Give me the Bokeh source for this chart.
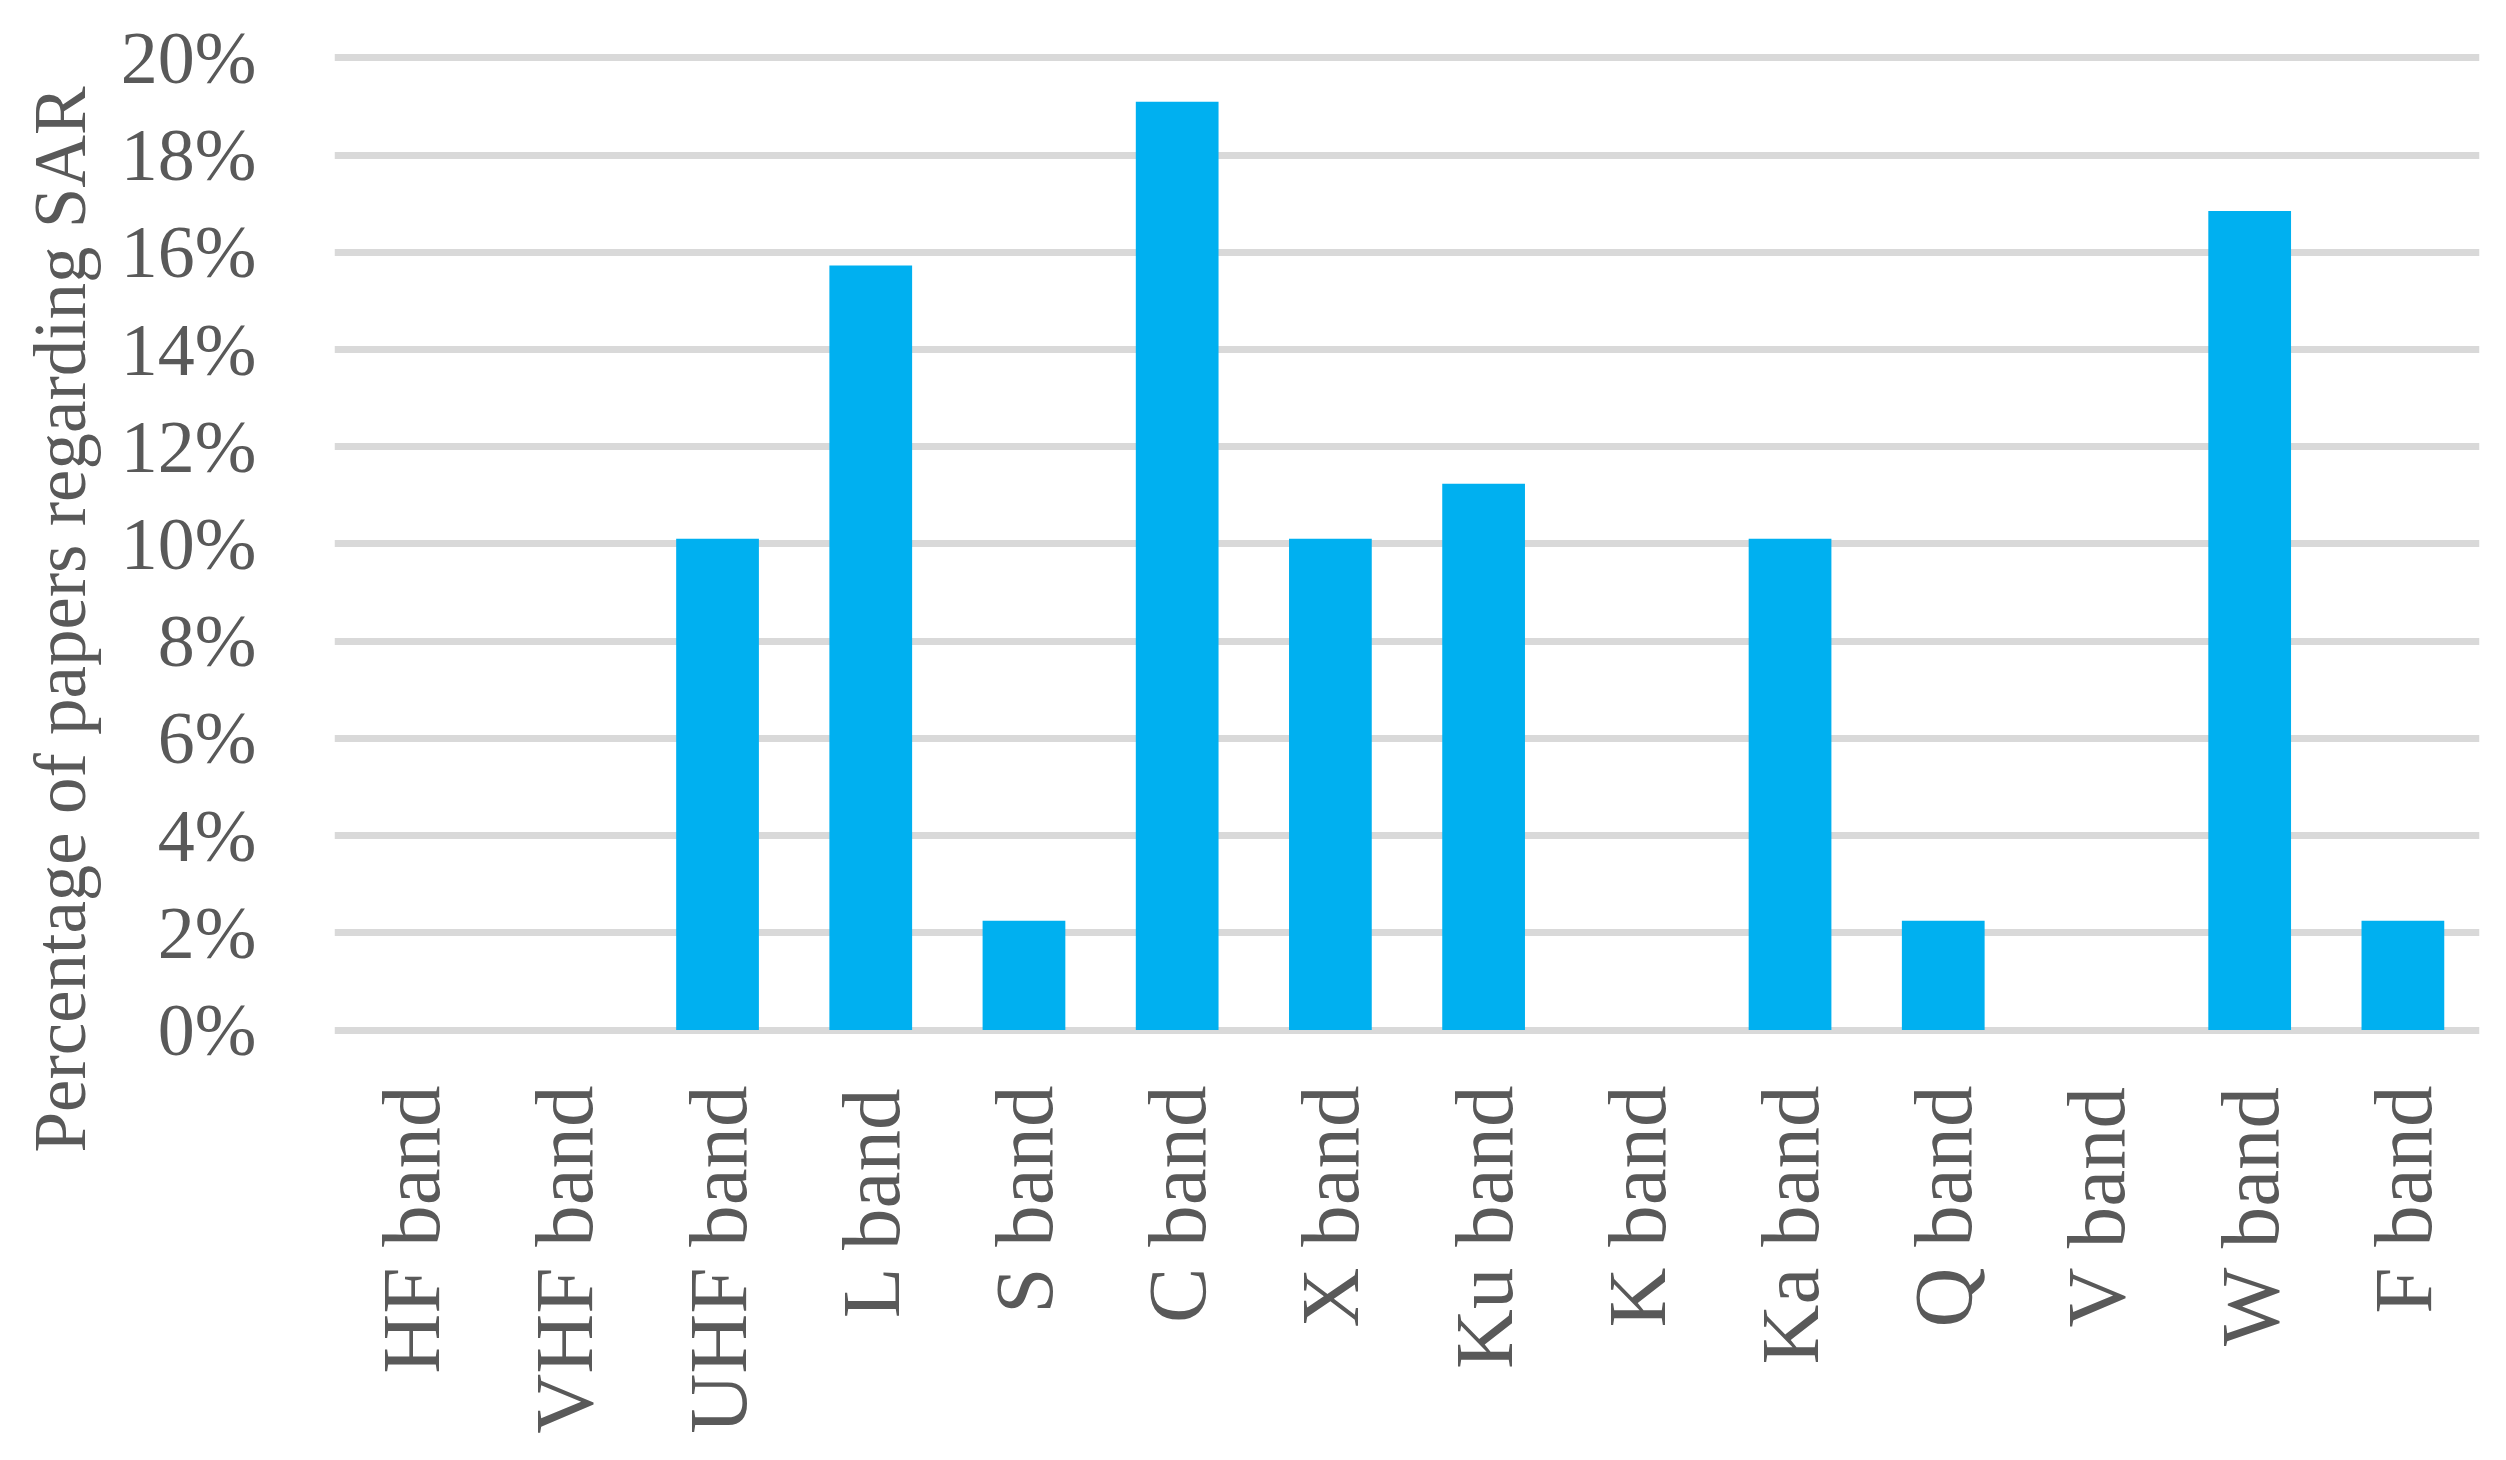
import math
from bokeh.plotting import figure
from bokeh.models import Range1d, NumeralTickFormatter, FixedTicker, Title
from bokeh.embed import file_html
from bokeh.resources import INLINE

categories = ["HF band", "VHF band", "UHF band", "L band", "S band", "C band", "X band",
              "Ku band", "K band", "Ka band", "Q band", "V band", "W band", "F band"]
values = [0.0, 0.0, 0.1011, 0.1573, 0.0225, 0.1910, 0.1011,
          0.1124, 0.0, 0.1011, 0.0225, 0.0, 0.1685, 0.0225]
y_ticks = [0.0, 0.02, 0.04, 0.06, 0.08, 0.10, 0.12, 0.14, 0.16, 0.18, 0.20]
y_title = "Percentage of papers regarding SAR"

FONT = "Liberation Serif"
TXT = "#595959"

p = figure(x_range=categories, y_range=Range1d(-0.00216, 0.20195),
           width=2490, height=1444, output_backend="svg", toolbar_location=None,
           min_border_left=334, min_border_right=11, min_border_top=48, min_border_bottom=404)
p.outline_line_color = None
p.background_fill_color = "white"
p.border_fill_color = "white"

p.vbar(x=categories, top=values, width=0.54, color="#00B0F0", line_color=None)

p.x_range.range_padding = 0
p.xgrid.grid_line_color = None
p.ygrid.grid_line_color = "#D9D9D9"
p.ygrid.grid_line_width = 7
p.yaxis.ticker = FixedTicker(ticks=y_ticks)
p.yaxis.formatter = NumeralTickFormatter(format="0%")

for ax in (p.xaxis, p.yaxis):
    ax.axis_line_color = None
    ax.major_tick_line_color = None
    ax.minor_tick_line_color = None
    ax.major_tick_out = 0
    ax.major_label_text_font = FONT
    ax.major_label_text_color = TXT

p.yaxis.major_label_text_font_size = "74px"
p.yaxis.major_label_standoff = 78

p.xaxis.major_label_text_font_size = "83px"
p.xaxis.major_label_orientation = math.pi / 2
p.xaxis.major_label_standoff = 45

title = Title(text=y_title, align="left", offset=-112, standoff=34,
              text_font=FONT, text_font_size="73px", text_color=TXT,
              text_font_style="normal")
p.add_layout(title, "left")

open("out.html", "w").write(file_html(p, INLINE))
